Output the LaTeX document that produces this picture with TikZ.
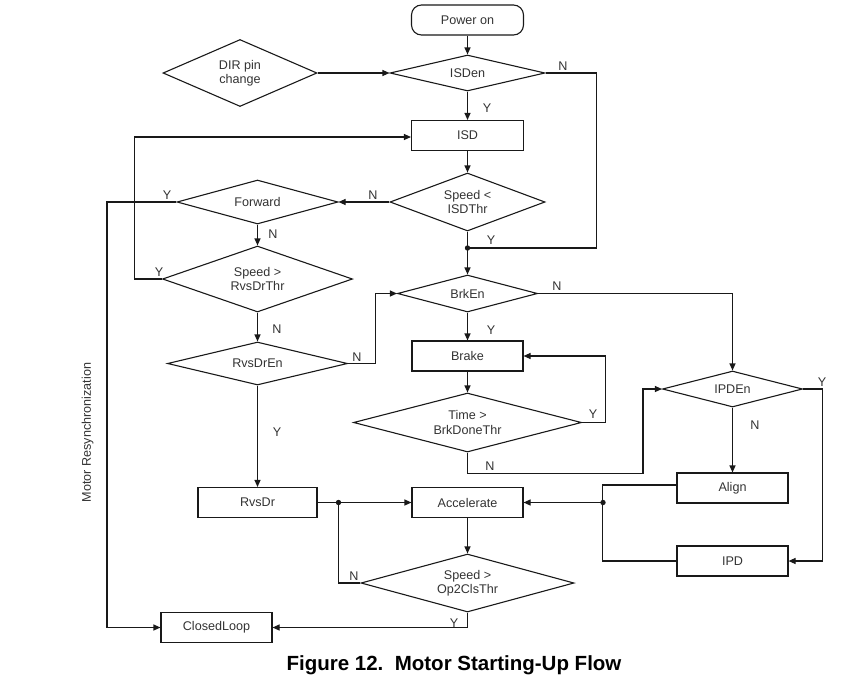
\documentclass[tikz,border=0pt]{standalone}
\usepackage{fontspec}
\setmainfont{Liberation Sans}
\usetikzlibrary{shapes.geometric,arrows.meta,calc}
\definecolor{ln}{gray}{0.1}
\definecolor{txt}{gray}{0.2}
\begin{document}
\begin{tikzpicture}[x=1pt,y=-1pt,
 every node/.style={font=\fontsize{12.6}{14.5}\selectfont, text=txt},
 conn/.style={draw=ln, line width=1.1pt},
 arr/.style={conn, -{Triangle[length=7pt,width=6pt]}},
 box/.style={draw=ln, line width=1.1pt, minimum width=112pt, minimum height=30pt, inner sep=0pt},
 dia/.style={draw=ln, line width=1.1pt, diamond, inner sep=0pt, align=center},
 lab/.style={inner sep=0pt},
 jdot/.style={circle, fill=ln, inner sep=0pt, minimum size=5.4pt}
]
\useasboundingbox (0,0) rectangle (853,691);

% centre column
\node[box, rounded corners=10pt] (pon) at (467.5,20) {Power on};
\node[dia, minimum width=155pt, minimum height=36pt, aspect=4.3] (isden) at (467.5,73) {ISDen};
\node[dia, minimum width=154pt, minimum height=67pt, aspect=2.3] (dir) at (240,73) {DIR pin\\change};
\node[box] (isd) at (467.5,135.5) {ISD};
\node[dia, minimum width=155pt, minimum height=58pt, aspect=2.7] (spd1) at (467.5,202) {Speed <\\ISDThr};
\coordinate (j1) at (467.5,248);
\node[dia, minimum width=140pt, minimum height=37pt, aspect=3.8] (brken) at (467.5,293.5) {BrkEn};
\node[box, minimum width=111pt] (brake) at (467.5,356) {Brake};
\node[dia, minimum width=228pt, minimum height=59pt, aspect=3.9] (time) at (467.5,422.5) {Time >\\BrkDoneThr};
\node[box, minimum width=111pt] (acc) at (467.5,502.5) {Accelerate};
\node[dia, minimum width=213pt, minimum height=58pt, aspect=3.7] (op2) at (467.5,583) {Speed >\\Op2ClsThr};

% left column
\node[dia, minimum width=161pt, minimum height=44pt, aspect=3.7] (fwd) at (257.5,202) {Forward};
\node[dia, minimum width=190pt, minimum height=66pt, aspect=2.9] (rvthr) at (257.5,279) {Speed >\\RvsDrThr};
\node[dia, minimum width=180pt, minimum height=43pt, aspect=4.2] (rvden) at (257.5,363.5) {RvsDrEn};
\node[box, minimum width=119pt] (rvsdr) at (257.5,502.5) {RvsDr};
\node[box, minimum width=111pt] (cl) at (216.5,627.5) {ClosedLoop};

% right column
\node[dia, minimum width=140pt, minimum height=36pt, aspect=3.9] (ipden) at (732.5,389) {IPDEn};
\node[box, minimum width=111pt] (align) at (732.5,488) {Align};
\node[box, minimum width=111pt] (ipd) at (732.5,561) {IPD};

\coordinate (j2) at (338.5,502.5);
\coordinate (j3) at (603,502.5);

% connectors
\draw[arr] (pon) -- (isden);
\draw[arr] (dir) -- (isden);
\draw[arr] (isden) -- (isd);
\draw[conn] (isden.east) -- ++(51,0) |- (j1);
\draw[arr] (isd) -- (spd1);
\draw[arr] (spd1) -- (fwd);
\draw[conn] (spd1) -- (j1);
\draw[arr] (j1) -- (brken);
\draw[arr] (fwd.west) -- ++(-69.5,0) |- (cl.west);
\draw[arr] (fwd) -- (rvthr);
\draw[arr] (rvthr.west) -- ++(-27.5,0) |- ([yshift=-1.5pt]isd.west);
\draw[arr] (rvthr) -- (rvden);
\draw[arr] (rvden.east) -- ++(27.5,0) |- (brken.west);
\draw[arr] (rvden) -- (rvsdr);
\draw[arr] (brken) -- (brake);
\draw[arr] (brken.east) -| (ipden.north);
\draw[arr] (brake) -- (time);
\draw[arr] (time.east) -- ++(23.5,0) |- (brake.east);
\draw[arr] (time.south) -- ++(0,21) -- ++(175.5,0) |- (ipden.west);
\draw[arr] (ipden) -- (align);
\draw[arr] (ipden.east) -- ++(19.5,0) |- (ipd.east);
\draw[conn] ([yshift=3pt]align.west) -- ++(-74,0) |- (ipd.west);
\draw[arr] (j3) -- (acc);
\draw[conn] (rvsdr) -- (j2);
\draw[arr] (j2) -- (acc);
\draw[arr] (acc) -- (op2);
\draw[conn] (op2.west) -| (j2);
\draw[arr] (op2.south) |- (cl.east);

\node[jdot] (d1) at (j1) {};
\node[jdot] (d2) at (j2) {};
\node[jdot] (d3) at (j3) {};

% labels
\node[lab] (l1) at (487,108) {Y};
\node[lab] (l2) at (563,66) {N};
\node[lab] (l3) at (373,195) {N};
\node[lab] (l4) at (491,240) {Y};
\node[lab] (l5) at (167,195) {Y};
\node[lab] (l6) at (273,234) {N};
\node[lab] (l7) at (159,272) {Y};
\node[lab] (l8) at (277,329) {N};
\node[lab] (l9) at (357,357) {N};
\node[lab] (l10) at (557,286) {N};
\node[lab] (l11) at (491,330) {Y};
\node[lab] (l12) at (593,414) {Y};
\node[lab] (l13) at (490,466) {N};
\node[lab] (l14) at (822,382) {Y};
\node[lab] (l15) at (755,425) {N};
\node[lab] (l16) at (277,432) {Y};
\node[lab] (l17) at (354,576) {N};
\node[lab] (l18) at (454,623) {Y};

\node[rotate=90] (mr) at (87.5,432.5) {Motor Resynchronization};
\node[font=\fontsize{20.5}{24}\selectfont\bfseries, text=black, anchor=base] (cap) at (454,670) {Figure 12.\ \ Motor Starting-Up Flow};
\end{tikzpicture}
\end{document}
